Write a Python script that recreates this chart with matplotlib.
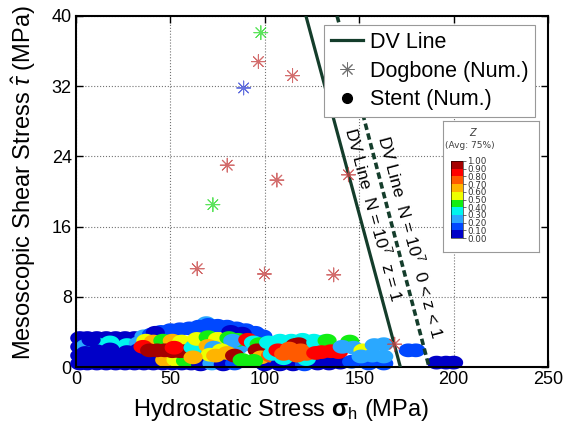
import numpy as np
import matplotlib
matplotlib.use('Agg')
import matplotlib.pyplot as plt
from matplotlib.colors import ListedColormap, BoundaryNorm
from matplotlib.lines import Line2D
from matplotlib.markers import MarkerStyle
import matplotlib as mpl

plt.rcParams['font.family'] = ['Liberation Sans', 'DejaVu Sans']
plt.rcParams['mathtext.fontset'] = 'custom'
plt.rcParams['mathtext.rm'] = 'Liberation Sans'
plt.rcParams['mathtext.it'] = 'Liberation Sans:italic'
plt.rcParams['mathtext.bf'] = 'Liberation Sans:bold'

# ---------------- data ----------------
x_ticks = [0, 50, 100, 150, 200, 250]
y_ticks = [0, 8, 16, 24, 32, 40]

dv_solid_x = [121.8, 171.8]
dv_solid_y = [40.0, 0.0]
dv_dash_x = [138.3, 187.0]
dv_dash_y = [40.0, 0.0]

dogbone_x = [97.9, 96.6, 114.7, 88.8, 80.1, 106.4, 72.5, 64.2, 99.8, 136.5, 144.3, 168.8]
dogbone_y = [38.1, 34.8, 33.2, 31.8, 23.0, 21.3, 18.5, 11.2, 10.6, 10.5, 21.9, 2.6]
dogbone_c = ['#33dd33', '#c84848', '#c84848', '#4050d8', '#c84848', '#c84848',
             '#33dd33', '#c84848', '#c84848', '#c84848', '#c84848', '#c84848']

# stent cloud (x, y, z) in drawing order
stent_x = [
    # dark-blue base, x 0-66
    2, 6, 11, 16, 21, 26, 31, 36, 41, 46, 51, 56, 61, 66,
    2, 6, 11, 16, 21, 26, 31, 36,
    2, 6, 11, 16, 21, 26, 31,
    2, 6, 11, 16, 21, 26, 31,
    # streaks + cover
    5, 11, 18, 27, 33,
    5, 11, 18, 27, 33, 8,
    # top blue band
    36, 69,
    40, 45, 50, 55, 60, 65, 70, 75, 80, 85, 90, 95, 99,
    42, 82, 88,
    # region 35-62
    37, 41, 46, 51, 56,
    40, 47, 53, 58,
    35.5,
    39, 43, 47, 51, 55, 58,
    52,
    # region 62-100
    66, 72, 78, 84, 100,
    63, 68, 74, 80, 86, 90,
    62, 64, 70, 75, 81, 86, 83, 91, 94, 97,
    70, 73, 77, 80, 71, 74, 62,
    84, 96, 98, 103, 88, 94,
    # region 100-170
    108, 115, 121, 128, 134, 140,
    102, 108, 114, 120, 126, 131, 104, 110, 122, 132,
    118, 116,
    107, 113, 119, 123, 110, 117, 122,
    127, 133, 145,
    127, 130, 135, 139,
    141, 147,
    152,
    158, 163,
    146, 155, 163,
    151, 157, 163,
    # isolated blobs
    176, 180,
    191, 196, 200,
]
stent_y = [
    0.4, 0.4, 0.4, 0.4, 0.4, 0.4, 0.4, 0.4, 0.4, 0.4, 0.4, 0.4, 0.4, 0.4,
    1.3, 1.3, 1.3, 1.3, 1.3, 1.3, 1.3, 1.3,
    2.3, 2.3, 2.3, 2.3, 2.3, 2.3, 2.3,
    3.3, 3.3, 3.3, 3.3, 3.3, 3.3, 3.3,
    2.4, 2.6, 2.8, 2.5, 2.7,
    1.6, 1.8, 2.0, 1.7, 1.9, 3.1,
    3.5, 5.0,
    3.7, 4.0, 4.2, 4.3, 4.4, 4.6, 4.8, 4.7, 4.6, 4.4, 4.2, 3.9, 3.5,
    3.9, 4.0, 3.8,
    3.0, 2.9, 3.0, 3.0, 2.9,
    0.5, 0.8, 0.8, 0.7,
    2.3,
    1.9, 1.9, 1.9, 1.8, 1.8, 1.8,
    2.2,
    0.3, 0.4, 0.3, 0.4, 0.3,
    2.4, 2.0, 2.2, 2.6, 2.2, 2.6,
    2.2, 3.2, 3.4, 3.2, 3.3, 3.1, 3.0, 3.1, 2.8, 2.6,
    2.4, 2.2, 1.9, 1.6, 1.4, 1.3, 1.1,
    1.3, 1.9, 1.1, 1.3, 0.8, 0.7,
    0.3, 0.3, 0.3, 0.4, 0.4, 0.5,
    2.8, 3.0, 3.0, 3.1, 3.0, 2.9, 1.5, 1.0, 0.9, 2.4,
    2.6, 2.5,
    1.9, 2.1, 1.9, 1.7, 1.5, 1.3, 1.5,
    2.8, 3.0, 2.9,
    1.6, 1.7, 1.8, 1.7,
    2.3, 2.2,
    1.9,
    2.5, 2.6,
    0.6, 0.4, 0.4,
    1.2, 1.3, 1.2,
    1.9, 1.9,
    0.5, 0.5, 0.5,
]
stent_z = [
    0.03, 0.03, 0.03, 0.03, 0.03, 0.03, 0.03, 0.03, 0.03, 0.03, 0.03, 0.03, 0.03, 0.03,
    0.03, 0.03, 0.03, 0.03, 0.03, 0.03, 0.03, 0.03,
    0.03, 0.03, 0.03, 0.03, 0.03, 0.03, 0.03,
    0.03, 0.03, 0.03, 0.03, 0.03, 0.03, 0.03,
    0.25, 0.35, 0.35, 0.35, 0.25,
    0.03, 0.03, 0.03, 0.03, 0.03, 0.03,
    0.25, 0.25,
    0.15, 0.15, 0.15, 0.15, 0.15, 0.15, 0.15, 0.15, 0.15, 0.15, 0.15, 0.15, 0.15,
    0.05, 0.05, 0.05,
    0.55, 0.65, 0.45, 0.65, 0.55,
    0.05, 0.65, 0.55, 0.45,
    0.85,
    0.95, 0.95, 0.95, 0.95, 0.95, 0.95,
    0.85,
    0.05, 0.25, 0.05, 0.15, 0.05,
    0.25, 0.25, 0.25, 0.25, 0.25, 0.25,
    0.35, 0.55, 0.45, 0.55, 0.45, 0.45, 0.25, 0.85, 0.35, 0.45,
    0.65, 0.25, 0.55, 0.65, 0.55, 0.65, 0.65,
    0.95, 0.95, 0.65, 0.75, 0.45, 0.45,
    0.05, 0.05, 0.15, 0.05, 0.05, 0.05,
    0.35, 0.35, 0.35, 0.35, 0.35, 0.35, 0.35, 0.35, 0.35, 0.35,
    0.95, 0.95,
    0.85, 0.75, 0.75, 0.75, 0.75, 0.75, 0.75,
    0.35, 0.45, 0.45,
    0.85, 0.85, 0.85, 0.85,
    0.25, 0.25,
    0.55,
    0.25, 0.25,
    0.15, 0.15, 0.15,
    0.25, 0.25, 0.25,
    0.15, 0.15,
    0.03, 0.03, 0.03,
]

z_levels = [0.0, 0.1, 0.2, 0.3, 0.4, 0.5, 0.6, 0.7, 0.8, 0.9, 1.0]
z_colors = ['#0000c8', '#0048ff', '#2aa8ff', '#00f5ee', '#12ee12',
            '#eeff00', '#ffb400', '#ff5a00', '#ff0000', '#a50000']

# ---------------- figure ----------------
fig = plt.figure(figsize=(5.67, 4.37), dpi=100)
ax = fig.add_axes([76/567, 1-367/437, (548-76)/567, (367-16)/437])

cmap = ListedColormap(z_colors)
norm = BoundaryNorm(z_levels, cmap.N)

t = np.linspace(0, 2*np.pi, 40)
ell = MarkerStyle(np.column_stack([np.cos(t), 0.72*np.sin(t)]))

line_col = '#143d2b'

ax.scatter(stent_x, stent_y, c=stent_z, cmap=cmap, norm=norm, marker=ell,
           s=190, linewidths=0, clip_on=False, zorder=2)
ax.plot(dv_solid_x, dv_solid_y, color=line_col, lw=2.3, zorder=3)
ax.plot(dv_dash_x, dv_dash_y, color=line_col, lw=2.6,
        linestyle=(0, (1.8, 1.0)), zorder=3)
star = MarkerStyle((8, 2, 0))
ax.scatter(dogbone_x, dogbone_y, c=dogbone_c, marker=star, s=100,
           linewidths=0.7, alpha=0.8, zorder=4)

ax.set_xlim(0, 250)
ax.set_ylim(0, 40)
ax.set_xticks(x_ticks)
ax.set_yticks(y_ticks)
ax.tick_params(direction='in', top=True, right=True, length=5, width=1.0,
               labelsize=13, pad=3)
for sp in ax.spines.values():
    sp.set_linewidth(1.5)
ax.grid(True, linestyle=':', color='0.45', lw=0.8)
ax.set_axisbelow(True)

ax.set_xlabel(r'Hydrostatic Stress $\mathbf{\sigma}_{\mathrm{h}}$ (MPa)', fontsize=17, labelpad=3)
ax.xaxis.set_label_coords(0.434, -0.085, transform=ax.transAxes)
ax.xaxis.label.set_va('top')
ax.set_ylabel(r'Mesoscopic Shear Stress $\hat{\tau}$ (MPa)', fontsize=17, labelpad=6)
ax.yaxis.set_label_coords(-0.08, 0.524, transform=ax.transAxes)

ax.text(158.0, 17.4, r'DV Line  N = 10$^7$  z = 1', rotation=-75,
        rotation_mode='anchor', ha='center', va='center', fontsize=12.5, zorder=5)
ax.text(177.5, 14.9, r'DV Line  N = 10$^7$  0 < z < 1', rotation=-75,
        rotation_mode='anchor', ha='center', va='center', fontsize=12.5, zorder=5)

handles = [Line2D([], [], color=line_col, lw=2.3),
           Line2D([], [], color='#707070', marker=star, markersize=10, lw=0,
                  markeredgewidth=0.7),
           Line2D([], [], color='black', marker='o', markersize=7, lw=0)]
leg = ax.legend(handles, ['DV Line', 'Dogbone (Num.)', 'Stent (Num.)'],
                loc='upper left', bbox_to_anchor=(0.525, 0.975), borderaxespad=0,
                fontsize=15.5, fancybox=False, framealpha=1, edgecolor='0.6',
                handlelength=1.5, labelspacing=0.36, borderpad=0.33,
                handletextpad=0.3)
leg.get_frame().set_linewidth(0.8)
leg.set_zorder(6)

# inset colour legend
box = fig.add_axes([443/567, 1-252/437, 96/567, 131/437])
box.set_xticks([]); box.set_yticks([])
for sp in box.spines.values():
    sp.set_color('0.6'); sp.set_linewidth(0.8)
box.text(0.31, 0.905, 'Z', transform=box.transAxes, ha='center', va='center',
         fontsize=7, style='italic', color='0.25', family='DejaVu Sans')
box.text(0.28, 0.81, '(Avg: 75%)', transform=box.transAxes, ha='center', va='center',
         fontsize=6.5, color='0.25', family='DejaVu Sans')
cax = fig.add_axes([451/567, 1-238/437, 12/567, 77/437])
cb = mpl.colorbar.ColorbarBase(cax, cmap=cmap, norm=norm, boundaries=z_levels,
                               ticks=z_levels, spacing='uniform')
cb.outline.set_linewidth(0.4)
cb.ax.tick_params(labelsize=6.3, length=2, width=0.5, pad=1, colors='0.2')
cb.ax.set_yticklabels([f'{v:.2f}' for v in z_levels], family='DejaVu Sans')

fig.savefig('out.png', dpi=100)
